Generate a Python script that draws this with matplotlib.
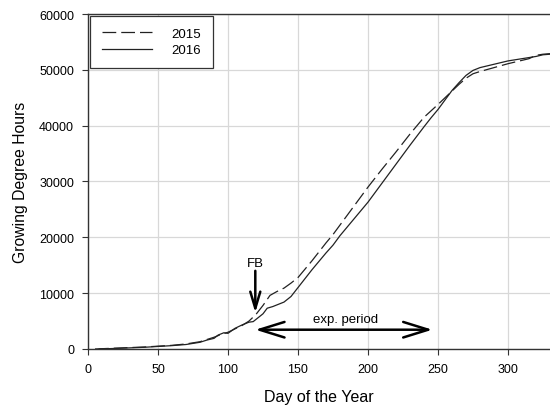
import matplotlib
matplotlib.use("Agg")
import matplotlib.pyplot as plt

plt.rcParams["font.family"] = ["Liberation Sans", "DejaVu Sans"]

# growing degree hours
days_2015 = [5, 10, 20, 30, 40, 50, 60, 70, 80, 90, 95, 100, 105, 110, 115,
             120, 125, 130, 135, 140, 145, 150, 155, 160, 170, 175, 180, 190,
             200, 210, 220, 230, 240, 250, 255, 260, 265, 270, 275, 280, 290,
             300, 310, 315, 320, 325, 330]
gdh_2015 = [0, 50, 150, 250, 350, 500, 650, 900, 1300, 2100, 2600, 3000, 3600,
            4200, 5000, 6200, 7800, 9600, 10300, 10900, 11800, 12800, 14300,
            15800, 19000, 20500, 22200, 25600, 29000, 32200, 35300, 38500,
            41500, 43800, 45000, 46200, 47400, 48500, 49300, 49700, 50400,
            51100, 51700, 52000, 52600, 52800, 52900]

days_2016 = [8, 20, 30, 40, 50, 60, 70, 80, 85, 90, 93, 97, 100, 105, 110,
             115, 118, 120, 125, 128, 132, 136, 140, 145, 150, 155, 160, 165,
             170, 175, 180, 190, 200, 210, 220, 230, 240, 245, 250, 255, 260,
             265, 270, 275, 280, 290, 300, 310, 320, 325, 330]
gdh_2016 = [0, 100, 200, 300, 450, 600, 800, 1200, 1600, 1900, 2500, 2900,
            2800, 3700, 4300, 4800, 4900, 5300, 6300, 7300, 7600, 8000, 8400,
            9400, 11000, 12600, 14200, 15700, 17200, 18600, 20300, 23300,
            26300, 29700, 33100, 36500, 39800, 41400, 42900, 44600, 46300,
            47700, 49000, 49900, 50400, 51000, 51600, 52000, 52400, 52700,
            52800]

fb_day, fb_top, fb_tip = 119.5, 14000, 6500
exp_start, exp_end, exp_level = 119.5, 246, 3450

fig = plt.figure(figsize=(5.5, 4.06), dpi=100)
ax = fig.add_axes([0.16, 0.138, 0.84, 0.825])

ax.plot(days_2015, gdh_2015, color="#222222", lw=0.9,
        linestyle=(0, (11, 4)), label="2015")
ax.plot(days_2016, gdh_2016, color="#222222", lw=0.9, label="2016")

ax.annotate("", xy=(fb_day, fb_tip), xytext=(fb_day, fb_top),
            arrowprops=dict(arrowstyle="->,head_length=1.2,head_width=0.36",
                            color="black", lw=1.8, shrinkA=0, shrinkB=0))
ax.text(fb_day, fb_top + 400, "FB", ha="center", va="bottom", fontsize=9.5)

ax.annotate("", xy=(exp_start, exp_level), xytext=(exp_end, exp_level),
            arrowprops=dict(arrowstyle="<->,head_length=1.8,head_width=0.56",
                            color="black", lw=1.8, shrinkA=0, shrinkB=0))
ax.text((exp_start + exp_end) / 2 + 1, exp_level + 900, "exp. period",
        ha="center", va="bottom", fontsize=9.5)

ax.set_xlim(0, 330)
ax.set_ylim(0, 60000)
ax.set_xticks(range(0, 301, 50))
ax.set_yticks(range(0, 60001, 10000))
ax.tick_params(labelsize=9, direction="out", length=4, pad=6, color="#333333")
ax.set_xlabel("Day of the Year", fontsize=11.5, labelpad=10)
ax.set_ylabel("Growing Degree Hours", fontsize=11.3, labelpad=8)

ax.grid(True, color="#d8d8d8", lw=0.9)
ax.set_axisbelow(True)
ax.spines["right"].set_visible(False)
for s in ("top", "left", "bottom"):
    ax.spines[s].set_color("#333333")
    ax.spines[s].set_linewidth(1.0)

leg = ax.legend(loc="upper left", fontsize=9.5, handlelength=3.8,
                borderaxespad=0.15, fancybox=False, edgecolor="#333333",
                framealpha=1, borderpad=0.9, handletextpad=1.5,
                labelspacing=0.3)
leg.get_frame().set_linewidth(0.9)

fig.savefig("out.png", dpi=100)
